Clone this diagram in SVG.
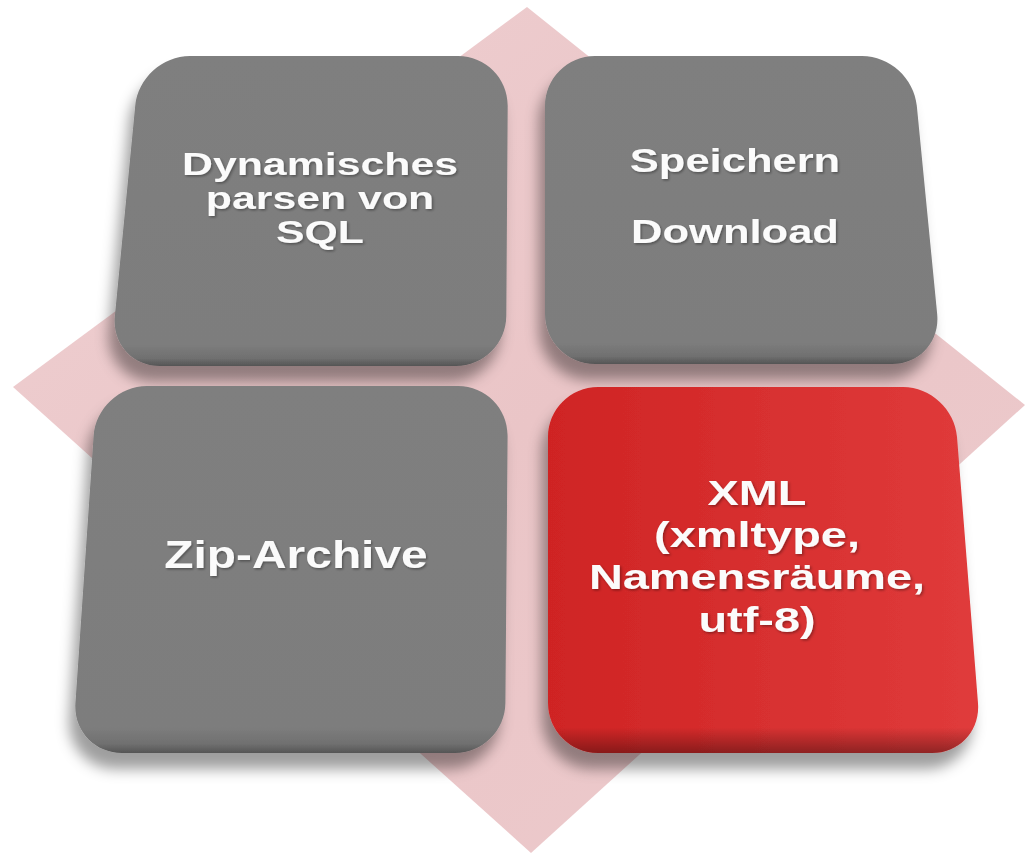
<svg xmlns="http://www.w3.org/2000/svg" width="1028" height="863" viewBox="0 0 1028 863">
  <defs>
    <linearGradient id="pink" x1="0" y1="0" x2="1" y2="1">
      <stop offset="0" stop-color="#efd0d2"/>
      <stop offset="0.5" stop-color="#eac5c7"/>
      <stop offset="1" stop-color="#edcbcd"/>
    </linearGradient>
    <linearGradient id="gray" x1="0" y1="0" x2="0" y2="1">
      <stop offset="0" stop-color="#7f7f7f"/>
      <stop offset="0.93" stop-color="#7d7d7d"/>
      <stop offset="0.975" stop-color="#707070"/>
      <stop offset="1" stop-color="#555555"/>
    </linearGradient>
    <linearGradient id="redH" x1="0" y1="0" x2="1" y2="0">
      <stop offset="0" stop-color="#cf2424"/>
      <stop offset="1" stop-color="#e03b3b"/>
    </linearGradient>
    <linearGradient id="bevel" x1="0" y1="0" x2="0" y2="1">
      <stop offset="0" stop-color="#000" stop-opacity="0"/>
      <stop offset="0.93" stop-color="#000" stop-opacity="0"/>
      <stop offset="1" stop-color="#000" stop-opacity="0.35"/>
    </linearGradient>
    <filter id="shadow" x="-20%" y="-20%" width="140%" height="150%">
      <feDropShadow dx="-6" dy="16" stdDeviation="7" flood-color="#000" flood-opacity="0.38"/>
    </filter>
    <filter id="tshadow" x="-10%" y="-30%" width="120%" height="160%">
      <feDropShadow dx="1" dy="1.5" stdDeviation="1" flood-color="#000" flood-opacity="0.35"/>
    </filter>
  </defs>
  <style>
    .lbl { font-family: "Liberation Sans", Arial, sans-serif; font-weight: bold; fill: #fbfbfb; text-anchor: middle; filter: url(#tshadow); }
  </style>
  <rect width="1028" height="863" fill="#ffffff"/>
  <g id="background">
    <polygon points="527,7 1025,405 531,853 13,387" fill="url(#pink)"/>
  </g>
  <g id="connectors"/>
  <g id="node-sql">
    <path filter="url(#shadow)" fill="url(#gray)" d="M190,56 L458,56 C485.6,56 507.9,78.4 507.7,106 L506.3,316 C506.1,343.6 483.6,366 456,366 L160,366 C132.4,366 112.2,343.7 114.8,316.2 L135.2,105.8 C137.9,78.3 162.4,56 190,56 Z"/>
    <g transform="translate(320,0) scale(1.36,1)">
      <text class="lbl" font-size="31.5" x="0" y="175">Dynamisches</text>
      <text class="lbl" font-size="31.5" x="0" y="209">parsen von</text>
      <text class="lbl" font-size="31.5" x="0" y="243">SQL</text>
    </g>
  </g>
  <g id="node-download">
    <path filter="url(#shadow)" fill="url(#gray)" d="M595,56 L862,56 C889.6,56 914.2,78.3 916.8,105.8 L937.2,314.2 C939.8,341.7 919.6,364 892,364 L595,364 C567.4,364 545,341.6 545,314 L545,106 C545,78.4 567.4,56 595,56 Z"/>
    <g transform="translate(735,0) scale(1.28,1)">
      <text class="lbl" font-size="34" x="0" y="172">Speichern</text>
      <text class="lbl" font-size="34" x="0" y="243">Download</text>
    </g>
  </g>
  <g id="node-zip">
    <path filter="url(#shadow)" fill="url(#gray)" d="M147,386 L458,386 C485.6,386 507.8,408.4 507.6,436 L505.4,703 C505.2,730.6 482.6,753 455,753 L122,753 C94.4,753 73.5,730.6 75.4,703.1 L93.6,435.9 C95.5,408.4 119.4,386 147,386 Z"/>
    <g transform="translate(296,0) scale(1.26,1)">
      <text class="lbl" font-size="38" x="0" y="568">Zip-Archive</text>
    </g>
  </g>
  <g id="node-xml">
    <path filter="url(#shadow)" fill="url(#redH)" d="M598,387 L903,387 C930.6,387 954.8,409.4 957,436.9 L978,703.2 C980.2,730.7 959.6,753 932,753 L598,753 C570.4,753 548,730.6 548,703 L548,437 C548,409.4 570.4,387 598,387 Z"/>
    <path fill="url(#bevel)" d="M598,387 L903,387 C930.6,387 954.8,409.4 957,436.9 L978,703.2 C980.2,730.7 959.6,753 932,753 L598,753 C570.4,753 548,730.6 548,703 L548,437 C548,409.4 570.4,387 598,387 Z"/>
    <g transform="translate(757,0) scale(1.34,1)">
      <text class="lbl" font-size="35" x="0" y="505">XML</text>
      <text class="lbl" font-size="35" x="0" y="547">(xmltype,</text>
      <text class="lbl" font-size="35" x="0" y="589">Namensräume,</text>
      <text class="lbl" font-size="35" x="0" y="632">utf-8)</text>
    </g>
  </g>
</svg>
